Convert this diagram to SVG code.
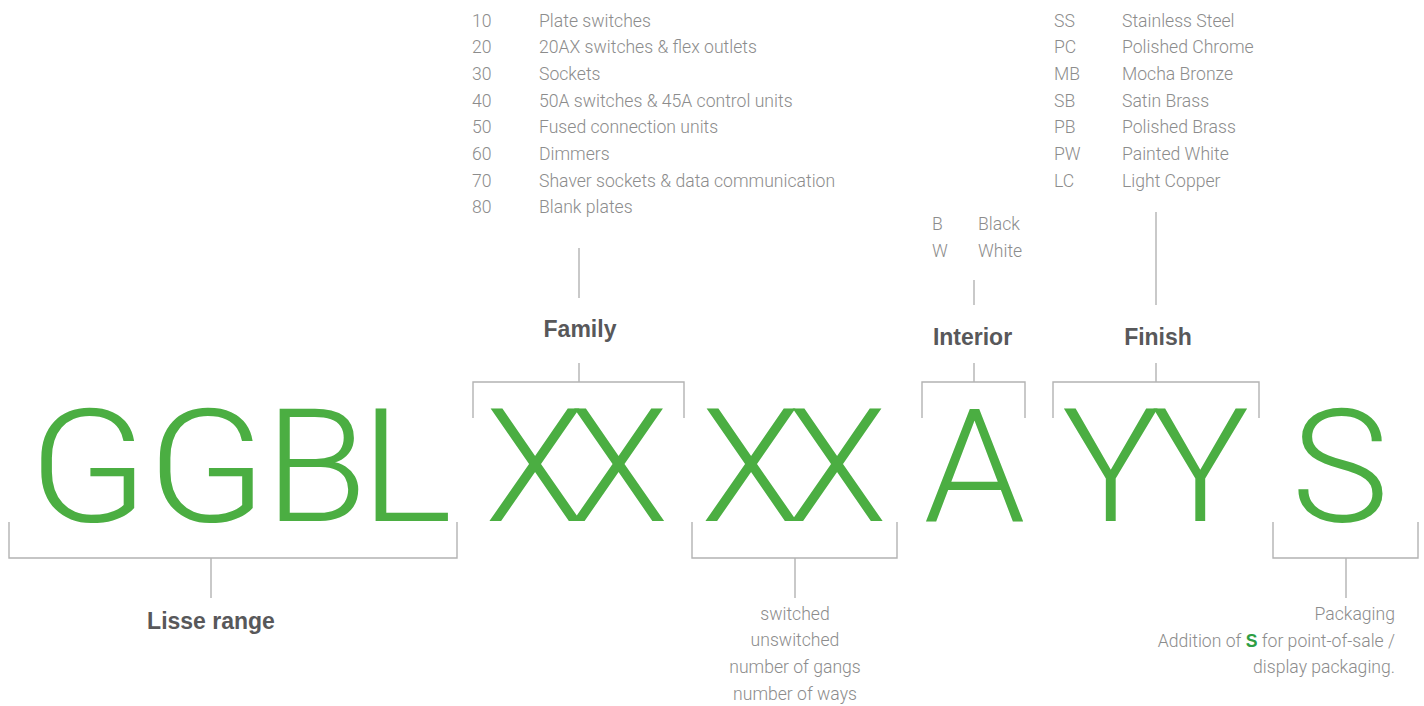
<svg xmlns="http://www.w3.org/2000/svg" width="1424" height="706" viewBox="0 0 1424 706">
<style>
.big{font-family:Roboto,"Liberation Sans",sans-serif;font-weight:300;font-size:157px;fill:#4bae42;text-anchor:middle}
.t{font-family:Roboto,"Liberation Sans",sans-serif;font-weight:300;font-size:17.6px;fill:#8c8c8c}
.lbl{font-family:"Liberation Sans",Arial,sans-serif;font-weight:bold;font-size:23px;fill:#58585a;text-anchor:middle}
.ln{fill:none;stroke:#b3b3b3;stroke-width:1.4}
.g{font-weight:bold;fill:#2f9e44}
</style>
<rect width="1424" height="706" fill="#fff"/>
<g id="connectors" class="ln">
<path d="M9,522V558H457V522M211,558V598"/>
<path d="M473,418V382H684V418M579,382V363M579,298V248"/>
<path d="M692,522V558H897V522M795,558V598"/>
<path d="M922,418V382H1025V418M974,382V363M974,305V280"/>
<path d="M1053,418V382H1259V418M1156,382V363M1156,305V212"/>
<path d="M1273,522V558H1418V522M1346,558V598"/>
</g>
<g id="range">
<text class="big" transform="translate(88.5,521) scale(1.11,1)">G</text>
<text class="big" transform="translate(207,521) scale(1.11,1)">G</text>
<text class="big" transform="translate(316,521) scale(1.07,1)">B</text>
<text class="big" transform="translate(406,521) scale(1.12,1)">L</text>
<text class="lbl" x="211" y="629">Lisse range</text>
</g>
<g id="family">
<text class="big" transform="translate(0,521) scale(1.04,1)" x="514.4 594.7" y="0">XX</text>
<text class="lbl" x="580" y="337">Family</text>
<g class="t">
<text x="472" y="27">10</text><text x="539" y="27">Plate switches</text>
<text x="472" y="53">20</text><text x="539" y="53">20AX switches &amp; flex outlets</text>
<text x="472" y="80">30</text><text x="539" y="80">Sockets</text>
<text x="472" y="107">40</text><text x="539" y="107">50A switches &amp; 45A control units</text>
<text x="472" y="133">50</text><text x="539" y="133">Fused connection units</text>
<text x="472" y="160">60</text><text x="539" y="160">Dimmers</text>
<text x="472" y="187">70</text><text x="539" y="187">Shaver sockets &amp; data communication</text>
<text x="472" y="213">80</text><text x="539" y="213">Blank plates</text>
</g>
</g>
<g id="type">
<text class="big" transform="translate(0,521) scale(1.04,1)" x="722.1 804.8" y="0">XX</text>
<g class="t" text-anchor="middle">
<text x="795" y="620">switched</text>
<text x="795" y="646">unswitched</text>
<text x="795" y="673">number of gangs</text>
<text x="795" y="700">number of ways</text>
</g>
</g>
<g id="interior">
<text class="big" transform="translate(974.5,521) scale(1.04,1)">A</text>
<text class="lbl" x="972.5" y="345">Interior</text>
<g class="t">
<text x="932" y="230">B</text><text x="978" y="230">Black</text>
<text x="932" y="257">W</text><text x="978" y="257">White</text>
</g>
</g>
<g id="finish">
<text class="big" transform="translate(0,521) scale(1.04,1)" x="1068.3 1154.3" y="0">YY</text>
<text class="lbl" x="1158" y="345">Finish</text>
<g class="t">
<text x="1054" y="27">SS</text><text x="1122" y="27">Stainless Steel</text>
<text x="1054" y="53">PC</text><text x="1122" y="53">Polished Chrome</text>
<text x="1054" y="80">MB</text><text x="1122" y="80">Mocha Bronze</text>
<text x="1054" y="107">SB</text><text x="1122" y="107">Satin Brass</text>
<text x="1054" y="133">PB</text><text x="1122" y="133">Polished Brass</text>
<text x="1054" y="160">PW</text><text x="1122" y="160">Painted White</text>
<text x="1054" y="187">LC</text><text x="1122" y="187">Light Copper</text>
</g>
</g>
<g id="packaging">
<text class="big" transform="translate(1340,521) scale(1.05,1)">S</text>
<g class="t" text-anchor="end">
<text x="1395" y="620">Packaging</text>
<text x="1395" y="647">Addition of <tspan class="g" font-family="'Liberation Sans',sans-serif">S</tspan> for point-of-sale /</text>
<text x="1395" y="673">display packaging.</text>
</g>
</g>
</svg>
